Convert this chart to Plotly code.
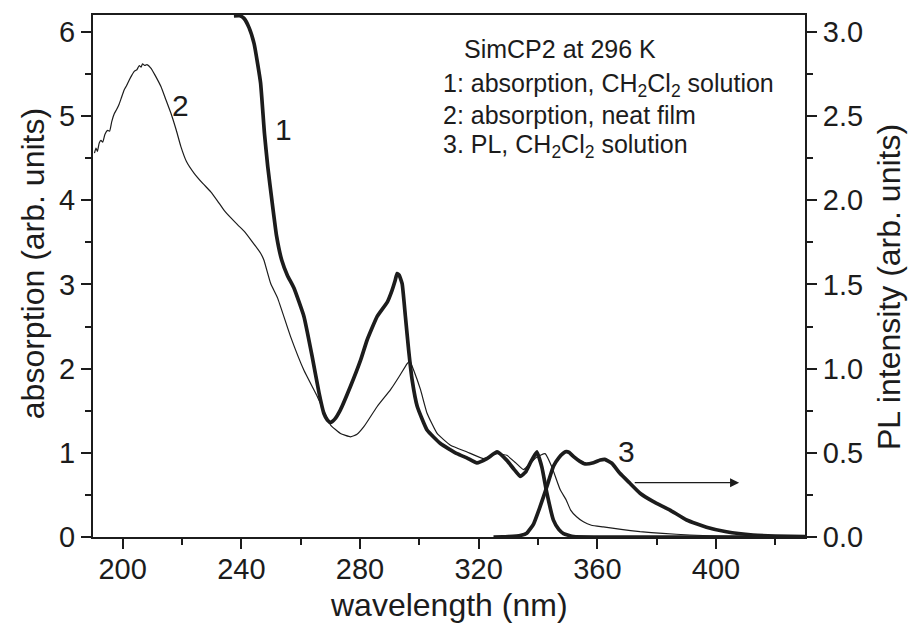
import plotly.graph_objects as go

# ---- data ----
# curve 1: absorption, CH2Cl2 solution (left axis)
wl1 = [237.5, 239.5, 240.9, 242.6, 244.3, 245.5, 246.5, 247.8, 248.9, 250.3, 251.9, 253.6,
       255.5, 257.7, 261.1, 263.9, 266.2, 267.8, 269.0, 270.1, 271.5, 273.4, 276.8, 280.2,
       282.4, 285.8, 289.2, 290.8, 291.8, 292.5, 293.2, 294.2, 295.3, 296.4, 297.6, 299.3,
       302.6, 307.1, 312.7, 316.0, 319.4, 322.8, 326.2, 329.5, 332.0, 334.0, 335.8, 337.4,
       339.6, 341.3, 343.0, 345.2, 347.0, 348.6, 352.0, 360.0, 430.0]
abs1 = [6.19, 6.19, 6.16, 6.05, 5.86, 5.62, 5.39, 4.79, 4.40, 4.00, 3.57, 3.29,
        3.11, 2.96, 2.62, 2.14, 1.71, 1.47, 1.39, 1.36, 1.40, 1.51, 1.79, 2.10,
        2.34, 2.62, 2.79, 2.93, 3.04, 3.13, 3.11, 3.01, 2.62, 2.22, 1.86, 1.55,
        1.27, 1.11, 0.99, 0.94, 0.88, 0.93, 1.01, 0.91, 0.80, 0.72, 0.77, 0.88,
        1.01, 0.83, 0.52, 0.20, 0.09, 0.04, 0.005, 0.0, 0.0]

# curve 2: absorption, neat film (left axis)
wl2 = [190.5, 191.0, 191.5, 192.1, 192.7, 193.3, 194.0, 194.9, 195.6, 196.3, 197.2, 198.0,
       198.8, 199.6, 200.5, 201.3, 202.1, 203.0, 203.9, 204.8, 205.6, 206.2, 206.7, 207.4,
       208.2, 209.5, 211.0, 212.9, 214.5, 216.3, 218.0, 219.6, 221.5, 224.1, 227.0, 229.7,
       232.0, 234.2, 236.5, 238.7, 241.0, 243.2, 246.5, 247.6, 249.9, 252.2, 256.6, 261.1,
       265.6, 270.1, 273.4, 276.8, 279.0, 281.3, 285.8, 290.3, 293.1, 295.9, 296.8, 298.1,
       300.4, 302.6, 306.0, 310.5, 316.1, 321.7, 324.0, 326.2, 329.5, 332.5, 335.1, 337.5,
       339.6, 342.4, 344.7, 347.5, 349.5, 351.0, 353.0, 355.3, 358.0, 362.0, 368.0, 374.4,
       382.0, 391.2, 400.0, 410.0, 430.0]
abs2 = [4.56, 4.62, 4.58, 4.68, 4.71, 4.69, 4.78, 4.83, 4.82, 4.93, 5.03, 5.08,
        5.14, 5.22, 5.31, 5.36, 5.42, 5.48, 5.53, 5.55, 5.60, 5.58, 5.62, 5.60,
        5.61, 5.57, 5.48, 5.35, 5.20, 5.03, 4.84, 4.64, 4.46, 4.32, 4.20, 4.10,
        3.99, 3.88, 3.79, 3.71, 3.63, 3.53, 3.37, 3.29, 3.01, 2.84, 2.38, 1.98,
        1.67, 1.33, 1.23, 1.19, 1.22, 1.31, 1.55, 1.75, 1.90, 2.06, 2.09, 1.98,
        1.75, 1.47, 1.23, 1.09, 1.01, 0.93, 0.96, 0.99, 0.97, 0.88, 0.80, 0.88,
        0.95, 0.99, 0.83, 0.56, 0.44, 0.32, 0.24, 0.18, 0.14, 0.12, 0.09, 0.063,
        0.042, 0.024, 0.012, 0.004, 0.0]

# curve 3: PL, CH2Cl2 solution (right axis)
wl3 = [325.0, 328.0, 330.0, 334.0, 336.2, 338.5, 340.7, 343.0, 345.2, 347.0, 348.5, 349.5,
       350.5, 352.0, 354.0, 355.9, 358.7, 361.0, 362.5, 364.9, 367.6, 371.0, 374.4, 378.9,
       384.5, 390.1, 396.8, 403.5, 412.5, 420.0, 430.0]
pl3 = [0.0, 0.001, 0.003, 0.009, 0.022, 0.077, 0.18, 0.30, 0.42, 0.47, 0.497, 0.507,
       0.502, 0.477, 0.451, 0.434, 0.441, 0.457, 0.461, 0.438, 0.378, 0.319, 0.260, 0.210,
       0.160, 0.101, 0.058, 0.031, 0.012, 0.006, 0.003]

x_range = [190, 430]
y_range = [0, 6.2]
y2_range = [0, 3.1]

FONT = "Liberation Sans, Arial, Helvetica, sans-serif"
INK = "#1c1c1c"

fig = go.Figure()
fig.add_trace(go.Scatter(x=wl2, y=abs2, mode="lines", name="2",
                         line=dict(color=INK, width=1.2, shape="spline", smoothing=0.4)))
fig.add_trace(go.Scatter(x=wl1, y=abs1, mode="lines", name="1",
                         line=dict(color=INK, width=3.7, shape="spline", smoothing=0.4)))
fig.add_trace(go.Scatter(x=wl3, y=pl3, mode="lines", name="3", yaxis="y2",
                         line=dict(color=INK, width=3.7, shape="spline", smoothing=0.4)))

axis_common = dict(showgrid=False, zeroline=False, showline=True, linecolor=INK, linewidth=2,
                   ticks="outside", ticklen=10, tickwidth=2, tickcolor=INK, automargin=False,
                   tickfont=dict(family=FONT, size=29, color=INK))

fig.update_layout(
    width=910, height=627,
    margin=dict(l=93, r=105, t=15, b=90, autoexpand=False),
    paper_bgcolor="white", plot_bgcolor="white",
    showlegend=False,
    xaxis=dict(range=x_range, tick0=200, dtick=40, mirror=True, ticklabelstandoff=-5,
               minor=dict(dtick=20, ticks="outside", ticklen=6, tickwidth=2, tickcolor=INK),
               **axis_common),
    yaxis=dict(range=y_range, tick0=0, dtick=1,
               minor=dict(dtick=0.5, ticks="outside", ticklen=6, tickwidth=2, tickcolor=INK),
               **axis_common),
    yaxis2=dict(range=y2_range, tick0=0, dtick=0.5, tickformat=".1f", overlaying="y", side="right",
                minor=dict(dtick=0.25, ticks="outside", ticklen=6, tickwidth=2, tickcolor=INK),
                **axis_common),
)

title_font = dict(family=FONT, size=32, color=INK)
fig.add_annotation(text="wavelength (nm)", xref="paper", yref="paper", x=0.5, y=-0.131,
                   xanchor="center", yanchor="middle", showarrow=False, font=title_font)
fig.add_annotation(text="absorption (arb. units)", xref="paper", yref="paper", x=-0.084, y=0.523,
                   xanchor="center", yanchor="middle", textangle=-90, showarrow=False, font=title_font)
fig.add_annotation(text="PL intensity (arb. units)", xref="paper", yref="paper", x=1.118, y=0.479,
                   xanchor="center", yanchor="middle", textangle=-90, showarrow=False, font=title_font)

label_font = dict(family=FONT, size=30, color=INK)
for txt, lx, ly in [("1", 254.2, 4.84), ("2", 219.4, 5.13), ("3", 369.7, 1.01)]:
    fig.add_annotation(text=txt, x=lx, y=ly, xref="x", yref="y", showarrow=False,
                       xanchor="center", yanchor="middle", font=label_font)

# arrow pointing to the right axis
fig.add_annotation(text="", x=407.8, y=0.645, ax=372.1, ay=0.645, xref="x", yref="y",
                   axref="x", ayref="y", showarrow=True, arrowhead=2, arrowsize=1.4,
                   arrowwidth=1.3, arrowcolor=INK)

key_font = dict(family=FONT, size=25, color=INK)
key_lines = [
    ("SimCP2 at 296 K", 314.4, 5.80),
    ("1: absorption, CH<sub>2</sub>Cl<sub>2</sub> solution", 307.4, 5.37),
    ("2: absorption, neat film", 307.4, 5.01),
    ("3. PL, CH<sub>2</sub>Cl<sub>2</sub> solution", 307.4, 4.64),
]
for txt, kx, ky in key_lines:
    fig.add_annotation(text=txt, x=kx, y=ky, xref="x", yref="y", showarrow=False,
                       xanchor="left", yanchor="middle", font=key_font)

fig.write_html("out.html", config={"displayModeBar": False},
               post_script="document.body.style.margin='0px';document.body.style.overflow='hidden';")
